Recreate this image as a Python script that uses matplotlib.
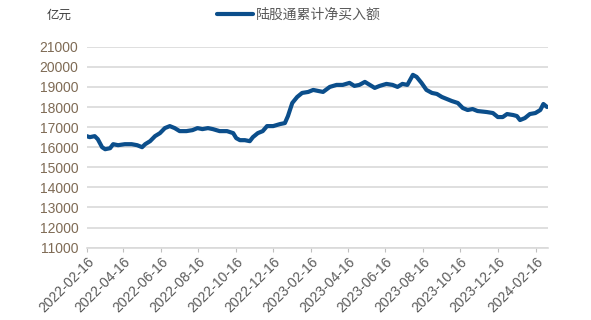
import matplotlib
matplotlib.use("Agg")
import matplotlib.pyplot as plt
import matplotlib.dates as mdates
import pandas as pd

plt.rcParams['font.family'] = ['Liberation Sans', 'Noto Sans CJK SC', 'DejaVu Sans']

# -----------------------------
# Data
# -----------------------------
dates = [
    "2022-02-16", "2022-02-21", "2022-03-01", "2022-03-06", "2022-03-13", "2022-03-18",
    "2022-03-26", "2022-03-31", "2022-04-08", "2022-04-19", "2022-04-30", "2022-05-09",
    "2022-05-17", "2022-05-22", "2022-05-30", "2022-06-07", "2022-06-15", "2022-06-23",
    "2022-07-01", "2022-07-09", "2022-07-17", "2022-07-28", "2022-08-07", "2022-08-15",
    "2022-08-23", "2022-09-01", "2022-09-09", "2022-09-20", "2022-10-02", "2022-10-12",
    "2022-10-17", "2022-10-23", "2022-10-31", "2022-11-08", "2022-11-13", "2022-11-21",
    "2022-11-29", "2022-12-06", "2022-12-16", "2022-12-27", "2023-01-04", "2023-01-09",
    "2023-01-16", "2023-01-24", "2023-02-01", "2023-02-11", "2023-02-19", "2023-02-27",
    "2023-03-07", "2023-03-18", "2023-03-29", "2023-04-08", "2023-04-19", "2023-04-27",
    "2023-05-05", "2023-05-14", "2023-05-22", "2023-05-30", "2023-06-07", "2023-06-18",
    "2023-06-28", "2023-07-06", "2023-07-14", "2023-07-22", "2023-07-31", "2023-08-06",
    "2023-08-14", "2023-08-22", "2023-08-31", "2023-09-08", "2023-09-16", "2023-09-24",
    "2023-10-02", "2023-10-12", "2023-10-20", "2023-10-28", "2023-11-05", "2023-11-13",
    "2023-11-28", "2023-12-08", "2023-12-16", "2023-12-24", "2023-12-31", "2024-01-10",
    "2024-01-16", "2024-01-21", "2024-01-29", "2024-02-06", "2024-02-15", "2024-02-23",
    "2024-02-28", "2024-03-05",
]
net_buy = [
    16550, 16500, 16550, 16400, 16000, 15900,
    15950, 16150, 16100, 16150, 16150, 16100,
    16000, 16150, 16300, 16550, 16700, 16950,
    17050, 16950, 16800, 16800, 16850, 16950,
    16900, 16950, 16900, 16800, 16800, 16700,
    16450, 16350, 16350, 16300, 16500, 16700,
    16800, 17050, 17050, 17150, 17200, 17550,
    18200, 18500, 18700, 18750, 18850, 18800,
    18750, 19000, 19100, 19100, 19200, 19050,
    19100, 19250, 19100, 18950, 19050, 19150,
    19100, 19000, 19150, 19100, 19600, 19500,
    19200, 18850, 18700, 18650, 18500, 18400,
    18300, 18200, 17950, 17850, 17900, 17800,
    17750, 17700, 17500, 17500, 17650, 17600,
    17550, 17350, 17450, 17650, 17700, 17850,
    18150, 18000,
]
tick_dates = [
    "2022-02-16", "2022-04-16", "2022-06-16", "2022-08-16", "2022-10-16", "2022-12-16",
    "2023-02-16", "2023-04-16", "2023-06-16", "2023-08-16", "2023-10-16", "2023-12-16",
    "2024-02-16",
]
y_ticks = [11000, 12000, 13000, 14000, 15000, 16000, 17000, 18000, 19000, 20000, 21000]

x = pd.to_datetime(dates)
ticks = pd.to_datetime(tick_dates)

# -----------------------------
# Figure
# -----------------------------
fig = plt.figure(figsize=(5.91, 3.2), dpi=100)
ax = fig.add_axes([0.1467, 0.226, 0.78, 0.628])

line, = ax.plot(x, net_buy, color="#0B4E8B", lw=3.0, solid_capstyle="round",
                label="陆股通累计净买入额")

ax.set_xlim(pd.Timestamp("2022-02-16"), pd.Timestamp("2024-03-06"))
ax.set_ylim(11000, 21000)
ax.set_yticks(y_ticks)
ax.set_xticks(ticks)
ax.xaxis.set_major_formatter(mdates.DateFormatter("%Y-%m-%d"))

ax.grid(axis="y", color="#D9D9D9", lw=1.2)
ax.set_axisbelow(True)
for s in ["top", "right", "left"]:
    ax.spines[s].set_visible(False)
ax.spines["bottom"].set_color("#D9D9D9")
ax.spines["bottom"].set_linewidth(1.2)

ax.tick_params(axis="y", length=0, labelsize=10, labelcolor="#7F6B55", pad=6)
ax.tick_params(axis="x", length=3, color="#BFBFBF", labelsize=10,
               labelcolor="#595959", pad=2)
for lbl in ax.get_xticklabels():
    lbl.set_rotation(45)
    lbl.set_ha("right")
    lbl.set_rotation_mode("anchor")

fig.text(0.122, 0.953, "亿元", ha="right", va="center", fontsize=9,
         color="#404040", family=["Noto Sans CJK SC", "DejaVu Sans"])
fig.legend(handles=[line], loc="center", bbox_to_anchor=(0.505, 0.953),
           frameon=False, handlelength=2.6, handletextpad=0.2,
           prop={"family": ["Noto Sans CJK SC", "DejaVu Sans"], "size": 10},
           labelcolor="#595959")

fig.savefig("out.png", dpi=100)
